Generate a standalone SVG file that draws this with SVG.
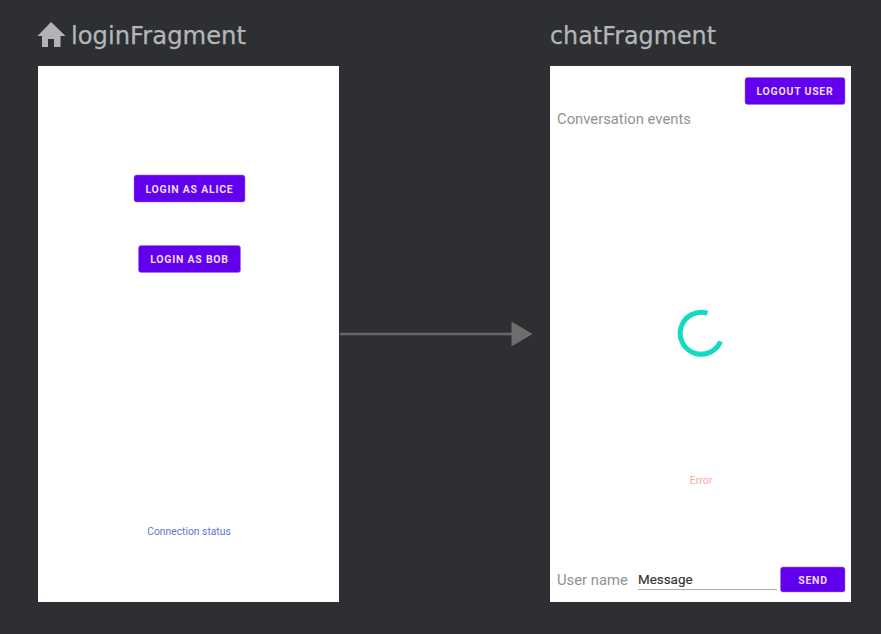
<svg xmlns="http://www.w3.org/2000/svg" width="881" height="634" viewBox="0 0 881 634">
<style>
.title{font-family:"DejaVu Sans","Liberation Sans",sans-serif;font-size:25px;fill:#b4b6b8;stroke:#b4b6b8;stroke-width:.25}
.screen{fill:#fff}
.btn{fill:#6200ee;stroke:#9a6cf2;stroke-width:.5}
.btnt{font-family:Roboto,sans-serif;font-size:10.500px;font-weight:700;fill:#e9dcfc;text-anchor:middle;letter-spacing:.75px}
.gray{font-family:Roboto,sans-serif;font-size:14.800px;fill:#929292}
</style>
<rect width="881" height="634" fill="#2d2f33"/>
<g id="connectors">
<line x1="340" y1="334" x2="513" y2="334" stroke="#686868" stroke-width="2.500"/>
<polygon points="511.500,321.500 532.500,334 511.500,346.500" fill="#6e6e6e"/>
</g>
<g id="loginFragment">
<path d="M37.500 36 L51 22 L65.500 36 L60.500 36 L60.500 47 L54 47 L54 39 L48 39 L48 47 L42 47 L42 36 Z" fill="#b1b3b5"/>
<text class="title" x="71" y="44" textLength="175" lengthAdjust="spacingAndGlyphs">loginFragment</text>
<rect class="screen" x="38" y="66" width="301" height="536"/>
<g id="login-alice"><rect class="btn" x="134" y="175" width="111" height="27" rx="2.500"/><text class="btnt" x="189.500" y="192.500">LOGIN AS ALICE</text></g>
<g id="login-bob"><rect class="btn" x="138.500" y="245.500" width="102" height="27" rx="2.500"/><text class="btnt" x="189.500" y="263">LOGIN AS BOB</text></g>
<text id="connection-status" x="189" y="534.500" font-family="Roboto,sans-serif" font-size="10.300px" fill="#6374cf" text-anchor="middle">Connection status</text>
</g>
<g id="chatFragment">
<text class="title" x="550" y="44" textLength="166" lengthAdjust="spacingAndGlyphs">chatFragment</text>
<rect class="screen" x="550" y="66" width="301" height="536"/>
<g id="logout"><rect class="btn" x="745" y="77.500" width="100" height="27" rx="2.500"/><text class="btnt" x="795" y="95">LOGOUT USER</text></g>
<text class="gray" x="557" y="124">Conversation events</text>
<path id="spinner" d="M707.500 313.200 A21 21 0 1 0 720.500 341.500" fill="none" stroke="#12dac3" stroke-width="5"/>
<text id="error" x="701" y="483.500" font-family="Roboto,sans-serif" font-size="10.500px" fill="#fba9a9" text-anchor="middle">Error</text>
<text class="gray" x="557" y="585">User name</text>
<text x="638" y="584" font-family="Roboto,sans-serif" font-size="13.400px" fill="#333" stroke="#333" stroke-width=".15">Message</text>
<line x1="638" y1="589.500" x2="777" y2="589.500" stroke="#ababab" stroke-width="1.200"/>
<g id="send"><rect class="btn" x="780.500" y="567" width="64.500" height="25" rx="2.500"/><text class="btnt" x="813" y="583.500">SEND</text></g>
</g>
</svg>
